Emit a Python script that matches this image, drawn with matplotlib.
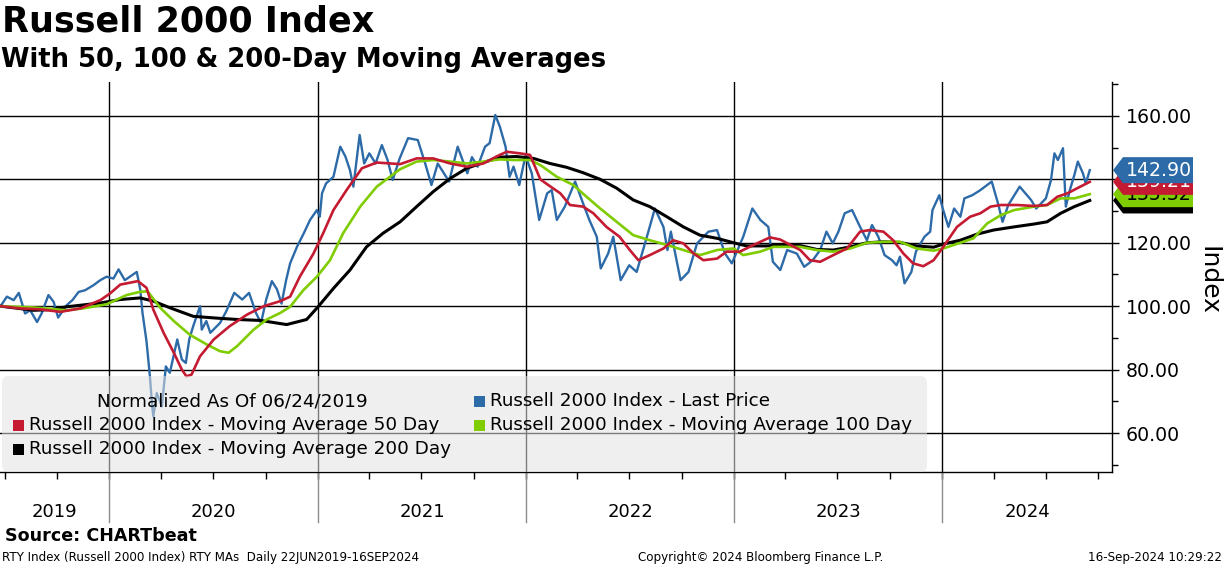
import numpy as np
import matplotlib
matplotlib.use("Agg")
import matplotlib.pyplot as plt
import matplotlib.dates as mdates
from matplotlib.patches import Polygon, FancyBboxPatch, Rectangle
from matplotlib import transforms
from matplotlib.ticker import MultipleLocator, FormatStrFormatter, NullLocator

plt.rcParams['font.family'] = ['DejaVu Sans']

# Russell 2000 - last price, normalized to 100 on 06/24/2019
price_dates = [
    "2019-06-24", "2019-07-05", "2019-07-17", "2019-07-26", "2019-08-06", "2019-08-15",
    "2019-08-27", "2019-09-04", "2019-09-16", "2019-09-25", "2019-10-03", "2019-10-18",
    "2019-10-28", "2019-11-08", "2019-11-19", "2019-12-04", "2019-12-16", "2019-12-27",
    "2020-01-08", "2020-01-17", "2020-01-28", "2020-02-06", "2020-02-18", "2020-02-24",
    "2020-02-28", "2020-03-06", "2020-03-12", "2020-03-16", "2020-03-18", "2020-03-24",
    "2020-04-02", "2020-04-06", "2020-04-09", "2020-04-16", "2020-04-29", "2020-05-07",
    "2020-05-14", "2020-05-20", "2020-05-27", "2020-06-08", "2020-06-11", "2020-06-19",
    "2020-06-26", "2020-07-13", "2020-07-24", "2020-08-07", "2020-08-21", "2020-09-02",
    "2020-09-14", "2020-09-23", "2020-10-02", "2020-10-12", "2020-10-21", "2020-10-29",
    "2020-11-06", "2020-11-13", "2020-11-25", "2020-12-07", "2020-12-18", "2020-12-30",
    "2021-01-04", "2021-01-08", "2021-01-15", "2021-01-28", "2021-02-09", "2021-02-18",
    "2021-02-26", "2021-03-04", "2021-03-15", "2021-03-23", "2021-04-01", "2021-04-12",
    "2021-04-23", "2021-05-03", "2021-05-12", "2021-05-24", "2021-06-08", "2021-06-25",
    "2021-07-08", "2021-07-19", "2021-07-30", "2021-08-19", "2021-09-03", "2021-09-20",
    "2021-09-28", "2021-10-08", "2021-10-21", "2021-10-29", "2021-11-08", "2021-11-16",
    "2021-11-26", "2021-12-03", "2021-12-10", "2021-12-20", "2021-12-31", "2022-01-11",
    "2022-01-24", "2022-02-07", "2022-02-15", "2022-02-24", "2022-03-10", "2022-03-28",
    "2022-04-11", "2022-04-22", "2022-05-05", "2022-05-12", "2022-05-25", "2022-06-03",
    "2022-06-16", "2022-07-01", "2022-07-14", "2022-08-01", "2022-08-15", "2022-08-30",
    "2022-09-06", "2022-09-12", "2022-09-29", "2022-10-13", "2022-10-28", "2022-11-17",
    "2022-12-02", "2022-12-16", "2022-12-28", "2023-01-17", "2023-02-02", "2023-02-16",
    "2023-03-02", "2023-03-10", "2023-03-23", "2023-04-04", "2023-04-21", "2023-05-04",
    "2023-05-19", "2023-06-01", "2023-06-12", "2023-06-23", "2023-07-03", "2023-07-14",
    "2023-07-27", "2023-08-10", "2023-08-22", "2023-08-31", "2023-09-11", "2023-09-22",
    "2023-10-05", "2023-10-13", "2023-10-19", "2023-10-27", "2023-11-08", "2023-11-16",
    "2023-12-01", "2023-12-11", "2023-12-15", "2023-12-27", "2024-01-02", "2024-01-12",
    "2024-01-22", "2024-02-02", "2024-02-09", "2024-02-23", "2024-03-08", "2024-03-28",
    "2024-04-08", "2024-04-16", "2024-04-26", "2024-05-16", "2024-06-05", "2024-06-14",
    "2024-07-01", "2024-07-10", "2024-07-16", "2024-07-22", "2024-07-31", "2024-08-05",
    "2024-08-12", "2024-08-20", "2024-08-26", "2024-09-04", "2024-09-09", "2024-09-16",
]
price_vals = [
    100.0, 103.0, 101.9, 104.2, 97.7, 98.7,
    95.0, 97.7, 103.5, 101.4, 96.4, 100.3,
    101.9, 104.5, 105.0, 106.6, 108.2, 109.3,
    108.7, 111.6, 108.2, 109.3, 110.8, 105.3,
    97.9, 89.0, 77.9, 68.4, 65.3, 72.6,
    68.4, 75.8, 81.0, 79.0, 89.5, 83.2,
    82.1, 89.5, 93.7, 100.0, 92.6, 95.3,
    91.6, 94.7, 98.4, 104.2, 102.1, 104.2,
    97.9, 94.7, 102.1, 107.9, 105.3, 100.8,
    108.2, 113.5, 118.7, 123.0, 127.2, 130.3,
    128.2, 135.6, 138.7, 140.8, 150.3, 147.2,
    142.9, 137.7, 154.0, 145.0, 148.2, 145.0,
    150.8, 146.1, 139.8, 146.5, 153.0, 152.4,
    145.0, 138.2, 145.0, 139.3, 150.3, 141.9,
    147.0, 144.0, 150.3, 151.4, 160.3, 156.6,
    150.3, 140.8, 144.0, 138.2, 147.5, 141.9,
    127.2, 135.6, 136.6, 127.2, 131.4, 139.3,
    132.4, 127.2, 121.9, 111.9, 116.6, 121.9,
    108.2, 112.9, 110.8, 121.9, 130.8, 125.0,
    117.7, 123.5, 108.2, 110.8, 119.8, 123.5,
    124.0, 116.6, 113.5, 121.9, 130.8, 127.2,
    125.0, 114.0, 111.4, 117.7, 116.6, 112.4,
    114.5, 117.7, 123.5, 119.8, 123.5, 129.3,
    130.3, 125.0, 120.8, 125.6, 121.9, 116.1,
    114.5, 112.9, 115.6, 107.2, 110.8, 117.2,
    121.9, 123.5, 130.3, 135.0, 130.8, 125.0,
    130.8, 128.2, 134.0, 135.0, 136.6, 139.3,
    132.4, 126.6, 131.9, 137.7, 133.5, 130.8,
    134.0, 139.8, 148.2, 146.1, 149.8, 131.4,
    136.6, 141.4, 145.6, 141.9, 138.7, 142.9,
]

# 50-day moving average
ma50_dates = [
    "2019-06-24", "2019-07-28", "2019-09-02", "2019-10-07", "2019-11-11", "2019-12-16",
    "2020-01-02", "2020-01-20", "2020-02-20", "2020-03-06", "2020-03-18", "2020-04-05",
    "2020-04-23", "2020-05-07", "2020-05-15", "2020-05-24", "2020-06-08", "2020-07-02",
    "2020-07-30", "2020-08-30", "2020-09-28", "2020-10-27", "2020-11-13", "2020-11-30",
    "2020-12-24", "2021-01-10", "2021-01-28", "2021-02-20", "2021-03-19", "2021-04-14",
    "2021-05-25", "2021-06-23", "2021-07-22", "2021-08-21", "2021-09-19", "2021-10-18",
    "2021-11-10", "2021-11-28", "2021-12-21", "2022-01-08", "2022-01-26", "2022-02-09",
    "2022-03-02", "2022-03-19", "2022-04-11", "2022-04-29", "2022-05-22", "2022-06-14",
    "2022-07-02", "2022-07-17", "2022-08-06", "2022-08-30", "2022-09-16", "2022-10-04",
    "2022-10-22", "2022-11-08", "2022-12-02", "2022-12-19", "2023-01-11", "2023-02-04",
    "2023-03-05", "2023-03-23", "2023-04-27", "2023-05-14", "2023-06-01", "2023-06-24",
    "2023-07-18", "2023-08-10", "2023-08-27", "2023-09-20", "2023-10-07", "2023-10-25",
    "2023-11-11", "2023-11-29", "2023-12-17", "2024-01-03", "2024-01-27", "2024-02-19",
    "2024-03-08", "2024-03-26", "2024-04-13", "2024-05-12", "2024-06-10", "2024-07-03",
    "2024-07-21", "2024-08-08", "2024-08-25", "2024-09-16",
]
ma50_vals = [
    100.0, 99.3, 99.0, 98.2, 99.3, 101.9,
    104.0, 106.8, 107.9, 105.8, 98.9, 91.6,
    85.3, 80.0, 77.9, 78.4, 84.2, 89.5,
    93.7, 97.4, 100.0, 101.6, 103.0, 109.3,
    116.6, 123.0, 130.3, 136.6, 143.5, 145.3,
    144.8, 146.6, 146.6, 145.0, 144.0, 145.0,
    147.2, 148.7, 148.2, 147.7, 140.0, 138.2,
    135.6, 131.9, 131.4, 129.3, 125.0, 121.9,
    117.7, 114.5, 116.1, 118.2, 120.8, 119.8,
    116.6, 114.5, 115.0, 117.2, 117.2, 119.3,
    121.7, 121.0, 117.7, 114.5, 114.0, 116.1,
    118.2, 123.5, 124.0, 123.5, 120.8, 116.6,
    113.5, 112.6, 114.5, 118.7, 125.0, 128.2,
    129.3, 131.4, 131.9, 131.9, 131.6, 131.9,
    134.5, 135.6, 137.2, 139.21,
]

# 100-day moving average
ma100_dates = [
    "2019-06-24", "2019-08-21", "2019-10-18", "2019-11-16", "2019-12-27", "2020-01-31",
    "2020-02-23", "2020-03-08", "2020-03-30", "2020-04-23", "2020-05-21", "2020-06-20",
    "2020-07-13", "2020-07-28", "2020-08-12", "2020-09-10", "2020-10-03", "2020-10-27",
    "2020-11-13", "2020-12-06", "2020-12-30", "2021-01-22", "2021-02-14", "2021-03-16",
    "2021-04-14", "2021-05-25", "2021-06-23", "2021-07-22", "2021-08-21", "2021-09-19",
    "2021-10-18", "2021-11-16", "2021-12-09", "2022-01-08", "2022-01-26", "2022-02-24",
    "2022-03-25", "2022-04-17", "2022-05-11", "2022-06-09", "2022-07-08", "2022-08-06",
    "2022-09-05", "2022-10-04", "2022-11-02", "2022-12-02", "2022-12-31", "2023-01-17",
    "2023-02-16", "2023-03-11", "2023-04-27", "2023-05-26", "2023-06-24", "2023-07-24",
    "2023-08-22", "2023-09-20", "2023-10-19", "2023-11-17", "2023-12-17", "2024-01-03",
    "2024-02-02", "2024-02-25", "2024-03-20", "2024-04-13", "2024-05-06", "2024-06-10",
    "2024-07-03", "2024-07-27", "2024-08-20", "2024-09-16",
]
ma100_vals = [
    100.0, 99.6, 98.7, 99.3, 100.6, 103.5,
    104.5, 104.7, 99.5, 95.3, 91.0, 87.9,
    85.8, 85.3, 87.4, 92.6, 95.8, 97.9,
    99.8, 105.0, 109.3, 114.5, 123.0, 131.4,
    137.7, 143.2, 145.6, 146.1, 145.6, 145.0,
    145.6, 146.3, 146.1, 146.1, 144.5, 140.8,
    138.2, 134.5, 130.8, 126.6, 122.4, 120.8,
    119.3, 117.7, 116.1, 117.7, 118.2, 116.1,
    117.2, 118.7, 118.7, 117.7, 117.2, 118.2,
    120.0, 120.3, 120.3, 118.2, 117.5, 118.2,
    120.0, 121.4, 126.1, 128.7, 130.3, 131.4,
    131.9, 134.0, 134.0, 135.32,
]

# 200-day moving average
ma200_dates = [
    "2019-06-24", "2019-08-21", "2019-09-19", "2019-10-18", "2019-12-16", "2020-01-20",
    "2020-02-24", "2020-03-18", "2020-04-16", "2020-05-27", "2020-07-02", "2020-08-12",
    "2020-09-22", "2020-10-27", "2020-11-07", "2020-12-12", "2021-01-01", "2021-01-28",
    "2021-02-26", "2021-03-27", "2021-04-25", "2021-05-25", "2021-06-23", "2021-07-22",
    "2021-08-21", "2021-09-19", "2021-10-18", "2021-11-16", "2021-12-15", "2022-01-14",
    "2022-02-12", "2022-03-13", "2022-04-11", "2022-05-11", "2022-06-09", "2022-07-08",
    "2022-08-06", "2022-09-05", "2022-10-04", "2022-11-02", "2022-12-02", "2022-12-31",
    "2023-01-23", "2023-02-27", "2023-03-28", "2023-04-27", "2023-05-26", "2023-06-24",
    "2023-07-24", "2023-08-22", "2023-09-20", "2023-10-19", "2023-11-17", "2023-12-17",
    "2024-01-03", "2024-02-02", "2024-03-02", "2024-03-31", "2024-05-06", "2024-06-10",
    "2024-07-03", "2024-07-27", "2024-08-20", "2024-09-16",
]
ma200_vals = [
    100.0, 98.7, 98.9, 99.8, 101.0, 102.1,
    102.6, 101.6, 99.5, 96.8, 96.3, 95.8,
    95.5, 94.5, 94.2, 95.8, 99.8, 105.6,
    111.4, 118.7, 123.0, 126.6, 131.4, 136.1,
    140.3, 143.5, 145.3, 147.0, 147.2, 146.6,
    145.0, 143.8, 142.1, 140.0, 137.2, 133.5,
    131.4, 128.2, 125.0, 122.4, 121.4, 120.0,
    119.0, 119.0, 119.3, 119.1, 117.9, 117.7,
    118.7, 120.0, 120.3, 120.1, 119.0, 118.6,
    119.6, 120.8, 122.7, 124.0, 125.0, 125.9,
    126.6, 129.3, 131.4, 133.34,
]

legend_labels = [
    "Russell 2000 Index - Last Price",
    "Russell 2000 Index - Moving Average 50 Day",
    "Russell 2000 Index - Moving Average 100 Day",
    "Russell 2000 Index - Moving Average 200 Day",
]
years = [2019, 2020, 2021, 2022, 2023, 2024]

BLUE = '#2d6aa8'
RED = '#c41a32'
GREEN = '#7fcc00'
BLACK = '#000000'

W, H = 1224, 566
fig = plt.figure(figsize=(W / 100, H / 100), dpi=100)
ax_left, ax_right, ax_top, ax_bot = 0, 1112, 82, 472
ax = fig.add_axes([ax_left / W, (H - ax_bot) / H, (ax_right - ax_left) / W, (ax_bot - ax_top) / H])


def to_num(lst):
    return mdates.date2num(np.array(lst, dtype='datetime64[D]'))


ax.plot(to_num(price_dates), price_vals, color=BLUE, lw=1.7, zorder=3)
ax.plot(to_num(ma200_dates), ma200_vals, color=BLACK, lw=2.2, zorder=4)
ax.plot(to_num(ma100_dates), ma100_vals, color=GREEN, lw=1.9, zorder=5)
ax.plot(to_num(ma50_dates), ma50_vals, color=RED, lw=1.9, zorder=6)

x0 = to_num(["2019-06-23"])[0]
x1 = to_num(["2024-10-25"])[0]
ax.set_xlim(x0, x1)
ax.set_ylim(47.7, 170.7)

# y axis on the right
ax.yaxis.tick_right()
ax.set_yticks([60, 80, 100, 120, 140, 160])
ax.yaxis.set_major_formatter(FormatStrFormatter('%.2f'))
ax.yaxis.set_minor_locator(MultipleLocator(10))
ax.tick_params(axis='y', which='major', length=5, width=1, pad=5, labelsize=13.6, colors='black')
ax.tick_params(axis='y', which='minor', length=4, width=1, colors='black')
ax.grid(axis='y', which='major', color='black', lw=1)
ax.set_axisbelow(True)

for s in ['left', 'top']:
    ax.spines[s].set_visible(False)
for s in ['right', 'bottom']:
    ax.spines[s].set_color('black')
    ax.spines[s].set_linewidth(1)

# x axis: quarterly ticks, year separators, labels in the middle of each year
ax.xaxis.set_major_locator(NullLocator())
ax.xaxis.set_minor_locator(mdates.MonthLocator(bymonth=[1, 4, 7, 10]))
ax.xaxis.set_minor_formatter(plt.NullFormatter())
ax.tick_params(axis='x', which='minor', length=5, width=1, colors='black')

blend = transforms.blended_transform_factory(ax.transData, ax.transAxes)
ax_h = ax_bot - ax_top
for yr in years[1:]:
    xv = to_num([f"{yr}-01-01"])[0]
    ax.axvline(xv, color='black', lw=1, zorder=1)
    ax.plot([xv, xv], [0, -50 / ax_h], color='#8c8c8c', lw=1, transform=blend, clip_on=False)
for yr in years:
    a = max(to_num([f"{yr}-01-01"])[0], x0)
    b = min(to_num([f"{yr + 1}-01-01"])[0], x1)
    ax.text((a + b) / 2, -(512 - ax_bot) / ax_h, str(yr), transform=blend,
            ha='center', va='center', fontsize=13)

# legend box drawn by hand
ax_w = ax_right - ax_left


def axf(px, py):
    return px / ax_w, (ax_bot - py) / ax_h


lx, ly = axf(2, 376)
leg_box = FancyBboxPatch((lx, 0), axf(927, 0)[0] - lx, ly,
                         boxstyle='round,pad=0,rounding_size=0.006', mutation_aspect=ax_w / ax_h,
                         transform=ax.transAxes, facecolor='#e2e2e2', edgecolor='none',
                         alpha=0.55, zorder=7, clip_on=False)
ax.add_patch(leg_box)
leg_fs = 13.2
ax.text(*axf(97, 401), "Normalized As Of 06/24/2019", transform=ax.transAxes,
        ha='left', va='center', fontsize=leg_fs, zorder=8)
entries = [(474, 401, BLUE, legend_labels[0]), (13, 425, RED, legend_labels[1]),
           (474, 425, GREEN, legend_labels[2]), (13, 449, BLACK, legend_labels[3])]
for px, py, col, lab in entries:
    rx, ry = axf(px, py + 5.5)
    ax.add_patch(Rectangle((rx, ry), 11 / ax_w, 11 / ax_h, transform=ax.transAxes,
                           facecolor=col, edgecolor='none', zorder=8))
    ax.text(*axf(px + 16, py), lab, transform=ax.transAxes, ha='left', va='center',
            fontsize=leg_fs, zorder=8)

# last-value tags on the right axis
tag = transforms.blended_transform_factory(ax.transAxes, ax.transData)
half = 13 * (170.7 - 47.7) / ax_h
tags = [(ma200_vals[-1], BLACK, 'white'), (ma100_vals[-1], GREEN, 'black'),
        (ma50_vals[-1], RED, 'white'), (price_vals[-1], BLUE, 'white')]
xt, xa, xr = 1113 / ax_w, 1123 / ax_w, 1193 / ax_w
for i, (v, col, tcol) in enumerate(tags):
    poly = Polygon([(xt, v), (xa, v + half), (xr, v + half), (xr, v - half), (xa, v - half)],
                   closed=True, transform=tag, facecolor=col, edgecolor='none',
                   clip_on=False, zorder=20 + 2 * i)
    ax.add_patch(poly)
    ax.text((xa + xr) / 2 + 1 / ax_w, v, f"{v:.2f}", transform=tag, ha='center', va='center',
            color=tcol, fontsize=13.6, clip_on=False, zorder=21 + 2 * i)

fig.text(1208 / W, 1 - 280 / H, "Index", rotation=270, ha='center', va='center', fontsize=18)

# titles and footer
fig.text(2 / W, 1 - 22 / H, "Russell 2000 Index", ha='left', va='center', fontsize=25.2, fontweight='bold')
fig.text(1 / W, 1 - 60 / H, "With 50, 100 & 200-Day Moving Averages", ha='left', va='center',
         fontsize=18.6, fontweight='bold')
fig.text(5 / W, 1 - 536 / H, "Source: CHARTbeat", ha='left', va='center', fontsize=12.6, fontweight='bold')
fig.text(2 / W, 1 - 557 / H, "RTY Index (Russell 2000 Index) RTY MAs  Daily 22JUN2019-16SEP2024",
         ha='left', va='center', fontsize=8.6)
fig.text(638 / W, 1 - 557 / H, "Copyright\u00a9 2024 Bloomberg Finance L.P.", ha='left', va='center', fontsize=8.6)
fig.text(1222 / W, 1 - 557 / H, "16-Sep-2024 10:29:22", ha='right', va='center', fontsize=8.6)

fig.savefig("out.png", dpi=100)
